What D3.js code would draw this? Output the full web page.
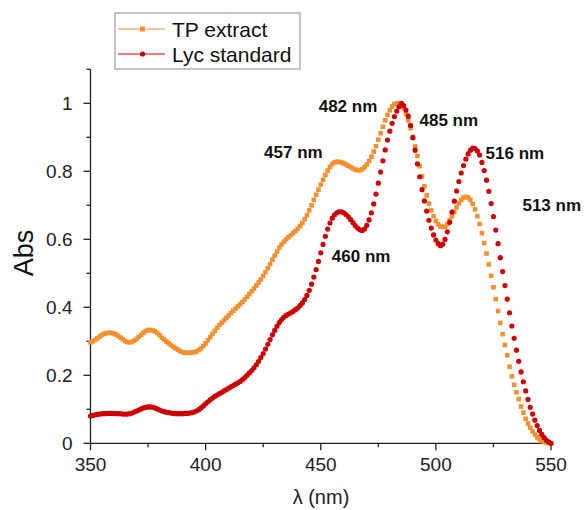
<!DOCTYPE html>
<html>
<head>
<meta charset="utf-8">
<script src="https://cdn.jsdelivr.net/npm/d3@7"></script>
<style>
  body { margin: 0; background: #fff; }
  svg { display: block; font-family: "Liberation Sans", Arial, sans-serif; }
</style>
</head>
<body>
<svg id="chart" width="584" height="510"></svg>
<script>
// wavelengths 350..550 nm, one reading per nm
const wavelengths = d3.range(350, 551);

const tpExtract = [
  0.297, 0.300, 0.304, 0.309, 0.314, 0.319, 0.322, 0.324, 0.325, 0.325,
  0.323, 0.320, 0.316, 0.311, 0.306, 0.301, 0.298, 0.297, 0.298, 0.302,
  0.307, 0.313, 0.319, 0.325, 0.330, 0.333, 0.333, 0.332, 0.329, 0.324,
  0.318, 0.311, 0.305, 0.299, 0.294, 0.289, 0.284, 0.279, 0.275, 0.271,
  0.268, 0.266, 0.266, 0.266, 0.267, 0.268, 0.270, 0.274, 0.279, 0.286,
  0.294, 0.303, 0.312, 0.322, 0.331, 0.340, 0.348, 0.355, 0.362, 0.369,
  0.376, 0.383, 0.390, 0.396, 0.403, 0.409, 0.416, 0.423, 0.431, 0.439,
  0.447, 0.455, 0.464, 0.473, 0.482, 0.492, 0.503, 0.515, 0.527, 0.540,
  0.552, 0.564, 0.576, 0.585, 0.593, 0.600, 0.606, 0.612, 0.618, 0.624,
  0.631, 0.639, 0.648, 0.659, 0.671, 0.685, 0.700, 0.716, 0.731, 0.746,
  0.761, 0.775, 0.789, 0.802, 0.813, 0.821, 0.826, 0.828, 0.828, 0.826,
  0.823, 0.820, 0.816, 0.812, 0.808, 0.805, 0.803, 0.803, 0.806, 0.812,
  0.820, 0.830, 0.843, 0.858, 0.874, 0.893, 0.912, 0.931, 0.950, 0.966,
  0.980, 0.991, 0.998, 1.000, 0.998, 0.994, 0.985, 0.970, 0.950, 0.927,
  0.901, 0.873, 0.845, 0.815, 0.785, 0.756, 0.729, 0.705, 0.685, 0.668,
  0.654, 0.644, 0.638, 0.636, 0.637, 0.645, 0.656, 0.668, 0.681, 0.694,
  0.706, 0.716, 0.723, 0.725, 0.723, 0.716, 0.704, 0.688, 0.668, 0.645,
  0.618, 0.589, 0.558, 0.526, 0.493, 0.459, 0.424, 0.389, 0.354, 0.321,
  0.289, 0.259, 0.225, 0.197, 0.172, 0.150, 0.130, 0.108, 0.090, 0.072,
  0.058, 0.046, 0.035, 0.026, 0.018, 0.012, 0.007, 0.004, 0.002, 0.001,
  0.000
];

const lycStandard = [
  0.080, 0.082, 0.084, 0.085, 0.086, 0.087, 0.087, 0.088, 0.088, 0.088,
  0.088, 0.087, 0.087, 0.087, 0.086, 0.086, 0.086, 0.087, 0.089, 0.092,
  0.095, 0.098, 0.101, 0.104, 0.106, 0.107, 0.107, 0.106, 0.104, 0.101,
  0.098, 0.095, 0.093, 0.091, 0.090, 0.089, 0.088, 0.087, 0.087, 0.087,
  0.087, 0.088, 0.088, 0.089, 0.090, 0.092, 0.095, 0.099, 0.104, 0.110,
  0.116, 0.122, 0.128, 0.133, 0.138, 0.142, 0.146, 0.150, 0.154, 0.158,
  0.162, 0.166, 0.170, 0.174, 0.178, 0.182, 0.187, 0.193, 0.200, 0.207,
  0.214, 0.222, 0.231, 0.241, 0.252, 0.264, 0.277, 0.291, 0.305, 0.319,
  0.332, 0.344, 0.355, 0.364, 0.371, 0.376, 0.380, 0.384, 0.388, 0.393,
  0.398, 0.405, 0.413, 0.423, 0.435, 0.450, 0.468, 0.489, 0.511, 0.535,
  0.560, 0.585, 0.609, 0.630, 0.648, 0.662, 0.672, 0.678, 0.681, 0.681,
  0.678, 0.673, 0.666, 0.658, 0.649, 0.640, 0.633, 0.628, 0.626, 0.630,
  0.641, 0.657, 0.678, 0.704, 0.733, 0.765, 0.798, 0.831, 0.863, 0.892,
  0.918, 0.941, 0.961, 0.977, 0.990, 1.000, 0.993, 0.980, 0.962, 0.935,
  0.899, 0.862, 0.822, 0.784, 0.746, 0.713, 0.683, 0.656, 0.633, 0.613,
  0.598, 0.587, 0.581, 0.586, 0.600, 0.622, 0.650, 0.680, 0.712, 0.742,
  0.770, 0.795, 0.817, 0.836, 0.851, 0.862, 0.868, 0.867, 0.860, 0.848,
  0.826, 0.802, 0.774, 0.741, 0.705, 0.667, 0.627, 0.587, 0.546, 0.505,
  0.464, 0.424, 0.384, 0.345, 0.309, 0.274, 0.241, 0.210, 0.181, 0.154,
  0.129, 0.106, 0.086, 0.068, 0.052, 0.038, 0.026, 0.017, 0.009, 0.004,
  0.000
];

const seriesNames = ["TP extract", "Lyc standard"];
const xTicks = [350, 400, 450, 500, 550];
const yTicks = [0, 0.2, 0.4, 0.6, 0.8, 1];
const peakLabels = ["482 nm", "485 nm", "457 nm", "516 nm", "513 nm", "460 nm"];

const svg = d3.select("#chart");
const x = d3.scaleLinear().domain([350, 550]).range([90.5, 551]);
const y = d3.scaleLinear().domain([0, 1.1]).range([443.3, 69.3]);

const colors = { tp: "#f39030", lyc: "#cc0000" };

// ---- axes ----
const yAxis = svg.append("g").attr("transform", `translate(${x(350)},0)`);
yAxis.append("line").attr("y1", y(0)).attr("y2", y(1.1)).attr("stroke", "#222").attr("stroke-width", 1.3);
yAxis.selectAll(".minor").data(d3.range(1, 12, 2).map(d => d / 10)).join("line")
    .attr("x1", -4).attr("x2", 0)
    .attr("y1", d => y(d)).attr("y2", d => y(d))
    .attr("stroke", "#222").attr("stroke-width", 1.3);
yAxis.selectAll(".major").data(yTicks).join("line")
    .attr("x1", -7).attr("x2", 0)
    .attr("y1", d => y(d)).attr("y2", d => y(d))
    .attr("stroke", "#222").attr("stroke-width", 1.3);
yAxis.selectAll("text").data(yTicks).join("text")
    .attr("x", -18).attr("y", d => y(d))
    .attr("dy", "0.36em")
    .attr("text-anchor", "end")
    .attr("font-size", 19).attr("fill", "#222")
    .text(d => d === 0 || d === 1 ? d : d.toFixed(1));

const xAxis = svg.append("g").attr("transform", `translate(0,${y(0)})`);
xAxis.append("line").attr("x1", x(350)).attr("x2", x(550)).attr("stroke", "#222").attr("stroke-width", 1.3);
xAxis.selectAll(".minor").data(d3.range(375, 550, 50)).join("line")
    .attr("x1", d => x(d)).attr("x2", d => x(d))
    .attr("y1", 0).attr("y2", 4)
    .attr("stroke", "#222").attr("stroke-width", 1.3);
xAxis.selectAll(".major").data(xTicks).join("line")
    .attr("x1", d => x(d)).attr("x2", d => x(d))
    .attr("y1", 0).attr("y2", 7)
    .attr("stroke", "#222").attr("stroke-width", 1.3);
xAxis.selectAll("text").data(xTicks).join("text")
    .attr("x", d => x(d)).attr("y", 28)
    .attr("text-anchor", "middle")
    .attr("font-size", 19).attr("fill", "#222")
    .text(d => d);

svg.append("text")
    .attr("x", 321).attr("y", 504)
    .attr("text-anchor", "middle")
    .attr("font-size", 20).attr("fill", "#222")
    .text("λ (nm)");

svg.append("text")
    .attr("transform", "translate(33,253) rotate(-90)")
    .attr("text-anchor", "middle")
    .attr("font-size", 27).attr("fill", "#111")
    .text("Abs");

// ---- series ----
const tpData = wavelengths.map((w, i) => [w, tpExtract[i]]);
const lycData = wavelengths.map((w, i) => [w, lycStandard[i]]);

const sq = 4.6;
svg.append("g").selectAll("rect").data(tpData).join("rect")
    .attr("x", d => x(d[0]) - sq / 2)
    .attr("y", d => y(d[1]) - sq / 2)
    .attr("width", sq).attr("height", sq)
    .attr("fill", colors.tp);

svg.append("g").selectAll("circle").data(lycData).join("circle")
    .attr("cx", d => x(d[0]))
    .attr("cy", d => y(d[1]))
    .attr("r", 2.6)
    .attr("fill", colors.lyc);

// ---- peak labels ----
const labelPos = [[449.1, 0.974], [492.9, 0.933], [425.4, 0.840], [521.6, 0.837], [537.6, 0.683], [454.8, 0.533]];
svg.append("g").selectAll("text").data(peakLabels).join("text")
    .attr("x", (d, i) => x(labelPos[i][0]))
    .attr("y", (d, i) => y(labelPos[i][1]))
    .attr("font-size", 17).attr("font-weight", "bold").attr("fill", "#111")
    .text(d => d);

// ---- legend ----
const legend = svg.append("g").attr("transform", "translate(115,13)");
legend.append("rect")
    .attr("width", 185).attr("height", 56)
    .attr("fill", "#fff").attr("stroke", "#8a8a8a").attr("stroke-width", 1);
const entries = legend.selectAll(".entry").data(seriesNames).join("g")
    .attr("transform", (d, i) => `translate(0,${16 + i * 25})`);
entries.append("line")
    .attr("x1", 3).attr("x2", 50)
    .attr("stroke", (d, i) => i === 0 ? colors.tp : colors.lyc).attr("stroke-width", 1);
entries.filter((d, i) => i === 0).append("rect")
    .attr("x", 25).attr("y", -2.5).attr("width", 5).attr("height", 5).attr("fill", colors.tp);
entries.filter((d, i) => i === 1).append("circle")
    .attr("cx", 27.5).attr("r", 2.6).attr("fill", colors.lyc);
entries.append("text")
    .attr("x", 57).attr("dy", "0.36em")
    .attr("font-size", 21).attr("fill", "#111")
    .text(d => d);
</script>
</body>
</html>
